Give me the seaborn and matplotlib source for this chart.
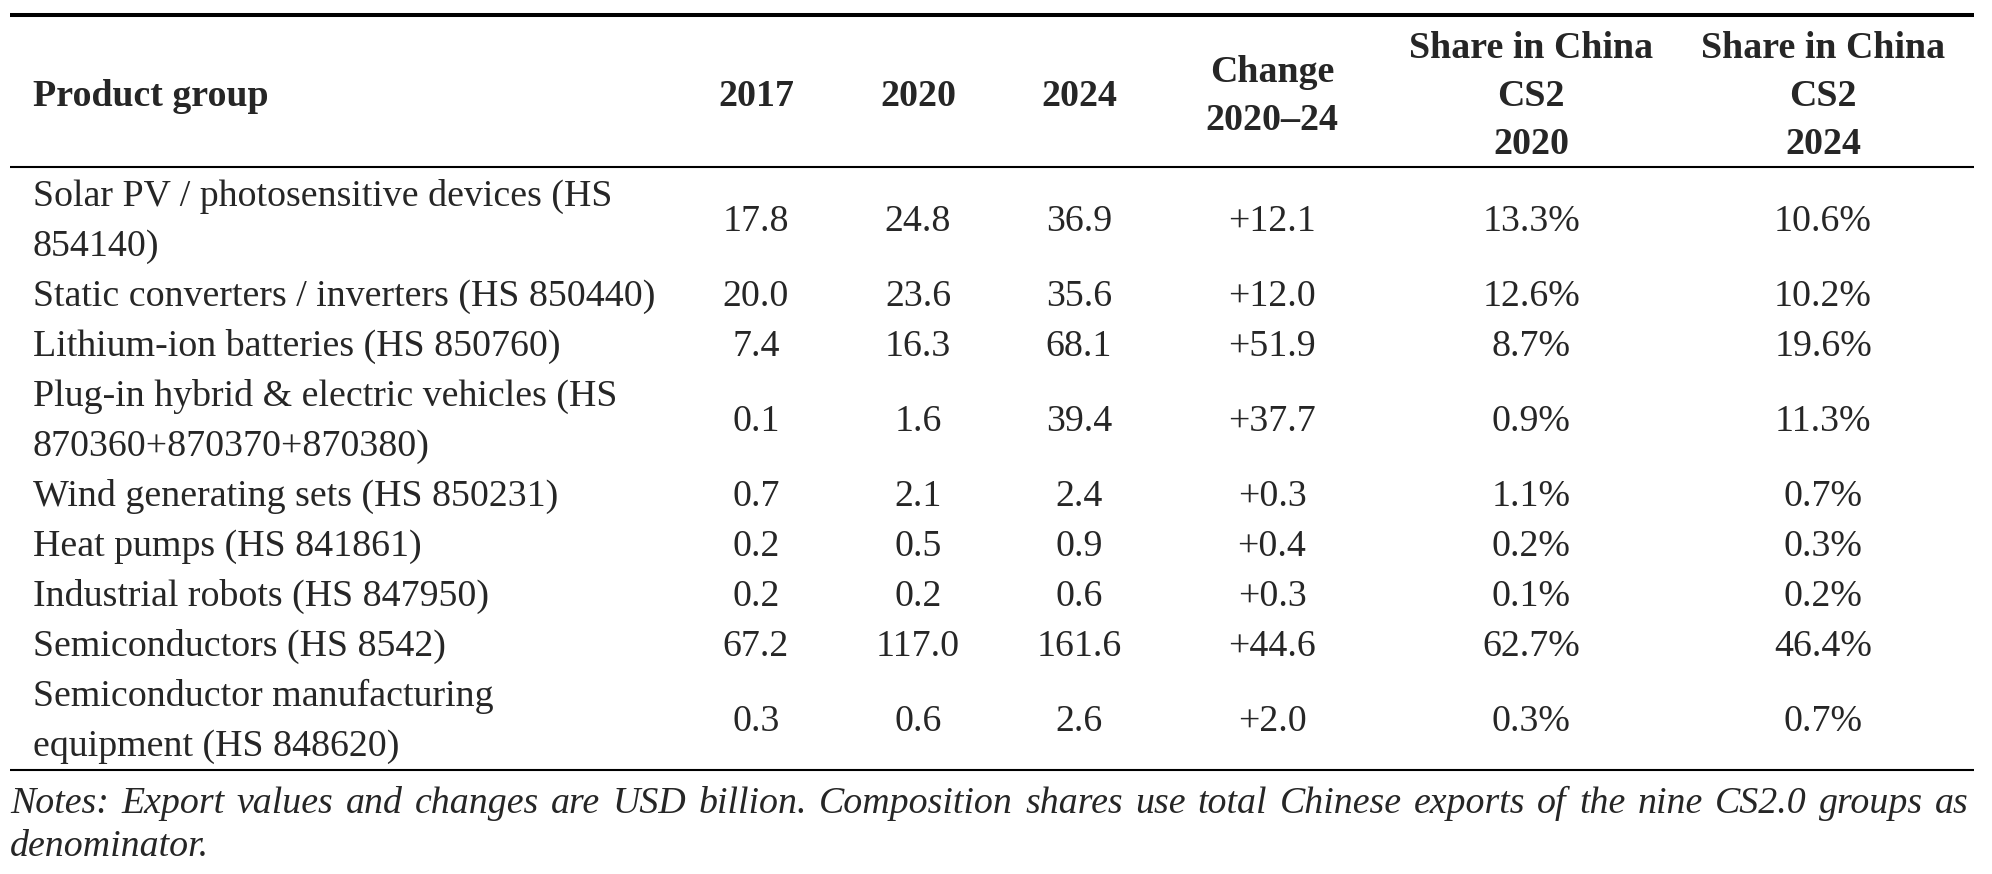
import pandas as pd
import seaborn as sns
import matplotlib.pyplot as plt

products = [
    "Solar PV / photosensitive devices (HS\n854140)",
    "Static converters / inverters (HS 850440)",
    "Lithium-ion batteries (HS 850760)",
    "Plug-in hybrid & electric vehicles (HS\n870360+870370+870380)",
    "Wind generating sets (HS 850231)",
    "Heat pumps (HS 841861)",
    "Industrial robots (HS 847950)",
    "Semiconductors (HS 8542)",
    "Semiconductor manufacturing\nequipment (HS 848620)",
]
exp_2017 = [17.8, 20.0, 7.4, 0.1, 0.7, 0.2, 0.2, 67.2, 0.3]
exp_2020 = [24.8, 23.6, 16.3, 1.6, 2.1, 0.5, 0.2, 117.0, 0.6]
exp_2024 = [36.9, 35.6, 68.1, 39.4, 2.4, 0.9, 0.6, 161.6, 2.6]
change = [12.1, 12.0, 51.9, 37.7, 0.3, 0.4, 0.3, 44.6, 2.0]
share_2020 = [13.3, 12.6, 8.7, 0.9, 1.1, 0.2, 0.1, 62.7, 0.3]
share_2024 = [10.6, 10.2, 19.6, 11.3, 0.7, 0.3, 0.2, 46.4, 0.7]

headers = ["Product group", "2017", "2020", "2024", "Change\n2020\u201324",
           "Share in China\nCS2\n2020", "Share in China\nCS2\n2024"]
notes = ("Notes: Export values and changes are USD billion. Composition shares use "
         "total Chinese exports of the nine CS2.0 groups as")
notes_2 = "denominator."

df = pd.DataFrame({
    "product": products,
    "2017": [f"{v:.1f}" for v in exp_2017],
    "2020": [f"{v:.1f}" for v in exp_2020],
    "2024": [f"{v:.1f}" for v in exp_2024],
    "change": [f"{v:+.1f}" for v in change],
    "s2020": [f"{v:.1f}%" for v in share_2020],
    "s2024": [f"{v:.1f}%" for v in share_2024],
})

sns.set_theme(style="white")
plt.rcParams["font.family"] = ["Liberation Serif", "DejaVu Serif"]

fs = 27.3
base = 13  # baseline offset below visual centre
col_x = [756, 918, 1079, 1272, 1531, 1823]
x0, x1 = 10, 1974

fig = plt.figure(figsize=(19.92, 8.74), dpi=100)
ax = fig.add_axes([0, 0, 1, 1])
ax.set_xlim(0, 1992)
ax.set_ylim(874, 0)
ax.axis("off")

# rules
ax.hlines(15, x0, x1, color="black", lw=2.9)
ax.hlines(167, x0, x1, color="black", lw=1.5)
ax.hlines(770, x0, x1, color="black", lw=1.5)

# header
hstep = 48
hc = 93
ax.text(33, hc + base, headers[0], fontsize=fs, fontweight="bold", va="baseline")
for x, h in zip(col_x, headers[1:]):
    lines = h.split("\n")
    top = hc - hstep * (len(lines) - 1) / 2
    for i, ln in enumerate(lines):
        ax.text(x, top + i * hstep + base, ln, fontsize=fs, fontweight="bold",
                ha="center", va="baseline")

# body
step = 50
y = 193
cols = ["2017", "2020", "2024", "change", "s2020", "s2024"]
for _, row in df.iterrows():
    lines = row["product"].split("\n")
    for i, ln in enumerate(lines):
        ax.text(33, y + i * step + base, ln, fontsize=fs, va="baseline")
    yc = y + step * (len(lines) - 1) / 2
    for x, c in zip(col_x, cols):
        ax.text(x, yc + base, row[c], fontsize=fs, ha="center", va="baseline")
    y += step * len(lines)

# notes, first line justified
words = notes.split(" ")
ny = 800 + base
objs = [ax.text(0, ny, w, fontsize=fs, style="italic", va="baseline") for w in words]
fig.canvas.draw()
r = fig.canvas.get_renderer()
widths = [o.get_window_extent(r).width for o in objs]
gap = (1969 - x0 - sum(widths)) / (len(words) - 1)
xx = x0
for o, w in zip(objs, widths):
    o.set_x(xx)
    xx += w + gap
ax.text(x0, 843 + base, notes_2, fontsize=fs, style="italic", va="baseline")

fig.savefig("out.png", dpi=100)
